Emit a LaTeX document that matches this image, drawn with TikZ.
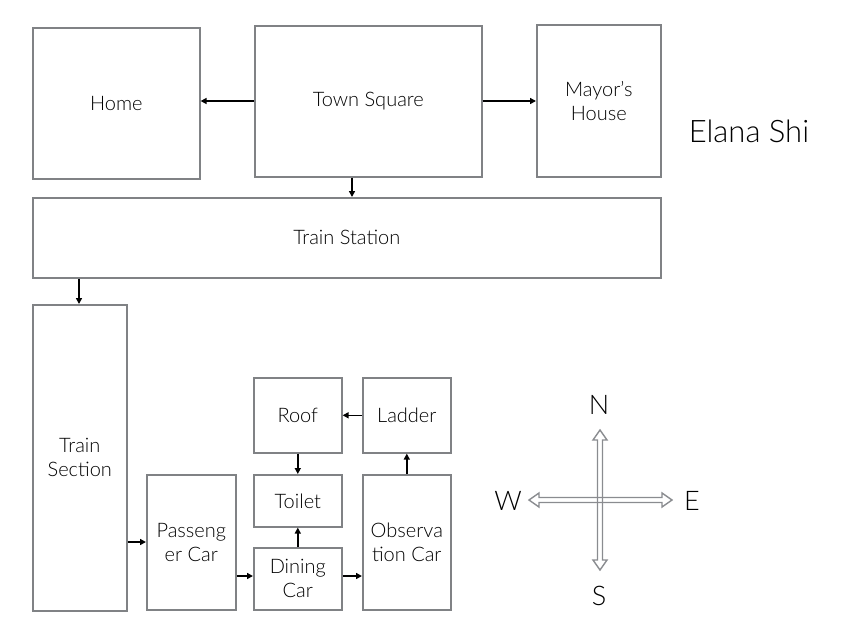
\documentclass[tikz,border=0pt]{standalone}
\usepackage{fontspec}
\setmainfont{Lato Light}
\usetikzlibrary{arrows.meta}
\definecolor{boxgray}{HTML}{808285}
\definecolor{compgray}{HTML}{8A8C90}
\tikzset{
  room/.style={draw=boxgray, line width=1.6pt, inner sep=0pt, align=center, font=\fontsize{20}{24}\selectfont},
  link/.style={-{Triangle[length=6pt,width=6pt]}, line width=1.6pt, black},
  compass/.style={draw=compgray, line width=1.4pt, line join=miter},
  dirlab/.style={font=\fontsize{27}{29}\selectfont, inner sep=0pt}
}
\newcommand{\roomat}[6]{\node[room, minimum width=#3pt-#1pt, minimum height=#4pt-#2pt, anchor=north west] (#5) at (#1,#2) {#6};}
\begin{document}
\begin{tikzpicture}[x=1pt,y=-1pt]
\useasboundingbox (0,0) rectangle (843,630);
\roomat{32}{27}{199}{178}{home}{Home}
\roomat{254}{25}{481}{176}{square}{Town Square}
\roomat{536}{24}{660}{176}{mayor}{Mayor's\\House}
\roomat{32}{197}{660}{277}{station}{Train Station}
\roomat{32}{304}{126}{610}{section}{Train\\Section}
\roomat{146}{474}{235}{609}{passenger}{Passeng\\er Car}
\roomat{253}{474}{341}{526}{toilet}{Toilet}
\roomat{253}{547}{341}{609}{dining}{Dining\\Car}
\roomat{362}{474}{450}{609}{observation}{Observa\\tion Car}
\roomat{253}{377}{341}{452}{roof}{Roof}
\roomat{362}{377}{450}{452}{ladder}{Ladder}
\node[font=\fontsize{31}{33}\selectfont, anchor=center] (author) at (749,131) {Elana Shi};
% connectors
\draw[link] (square.west |- 0,101) -- (home.east |- 0,101);
\draw[link] (square.east |- 0,101) -- (mayor.west |- 0,101);
\draw[link] (352,0 |- square.south) -- (352,0 |- station.north);
\draw[link] (79,0 |- station.south) -- (79,0 |- section.north);
\draw[link] (section.east |- 0,542) -- (passenger.west |- 0,542);
\draw[link] (passenger.east |- 0,576) -- (dining.west |- 0,576);
\draw[link] (dining.north) -- (toilet.south);
\draw[link] (dining.east |- 0,576) -- (observation.west |- 0,576);
\draw[link] (observation.north) -- (ladder.south);
\draw[link] (ladder.west) -- (roof.east);
\draw[link] (roof.south) -- (toilet.north);
% compass
\draw[compass] (529,500) -- (539,493) -- (539,497.5) -- (662,497.5) -- (662,493) -- (672,500) -- (662,507) -- (662,502.5) -- (539,502.5) -- (539,507) -- cycle;
\draw[compass] (600,430) -- (607,440) -- (602.5,440) -- (602.5,560) -- (607,560) -- (600,570) -- (593,560) -- (597.5,560) -- (597.5,440) -- (593,440) -- cycle;
\node[dirlab] (n) at (599,405) {N};
\node[dirlab] (s) at (599,596) {S};
\node[dirlab] (w) at (508,501) {W};
\node[dirlab] (e) at (692,501) {E};
\end{tikzpicture}
\end{document}
